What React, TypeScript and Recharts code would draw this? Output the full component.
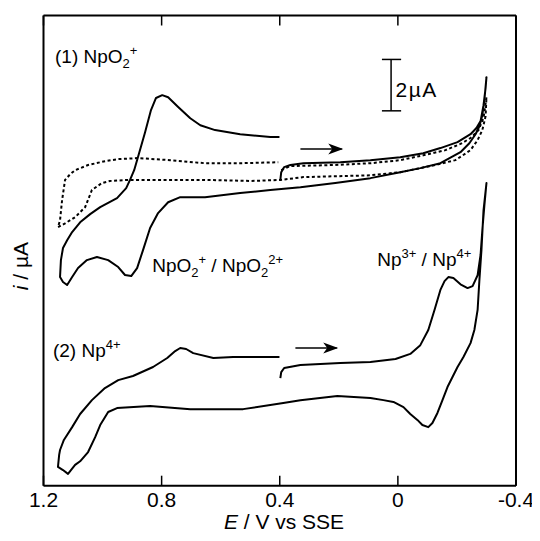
import React from "react";
import {
  LineChart,
  Line,
  XAxis,
  YAxis,
  Label,
  ReferenceLine,
  ReferenceDot,
} from "recharts";

// E (V vs SSE), i (µA, arbitrary offset)
const xTicks = [1.2, 0.8, 0.4, 0, -0.4];

const npo2Cv: [number, number][] = [
  [0.398, 11.9], [0.395, 12.2], [0.385, 12.4], [0.364, 12.48], [0.32, 12.55],
  [0.195, 12.59], [0.093, 12.67], [-0.008, 12.78], [-0.086, 12.94], [-0.144, 13.14],
  [-0.202, 13.37], [-0.246, 13.68], [-0.266, 13.92], [-0.28, 14.19], [-0.29, 14.81],
  [-0.297, 15.47], [-0.3, 15.9], [-0.293, 15.01], [-0.286, 14.42], [-0.276, 13.99],
  [-0.263, 13.68], [-0.242, 13.33], [-0.212, 12.98], [-0.144, 12.55], [-0.076, 12.36],
  [-0.008, 12.2], [0.093, 11.97], [0.212, 11.78], [0.33, 11.62], [0.432, 11.51],
  [0.534, 11.39], [0.653, 11.23], [0.737, 11.23], [0.778, 11.03], [0.812, 10.61],
  [0.839, 10.03], [0.863, 9.17], [0.883, 8.47], [0.903, 8.16], [0.924, 8.2],
  [0.947, 8.51], [0.981, 8.78], [1.019, 8.9], [1.053, 8.78], [1.083, 8.47],
  [1.103, 8.12], [1.12, 7.81], [1.134, 7.93], [1.144, 8.12], [1.141, 8.78],
  [1.134, 9.25], [1.12, 9.55], [1.103, 9.87], [1.076, 10.25], [1.042, 10.57],
  [1.008, 10.84], [0.951, 11.19], [0.92, 11.58], [0.907, 11.9], [0.893, 12.28],
  [0.88, 12.79], [0.856, 13.76], [0.836, 14.62], [0.819, 15.09], [0.798, 15.2],
  [0.778, 15.12], [0.744, 14.74], [0.703, 14.3], [0.669, 14.03], [0.619, 13.84],
  [0.534, 13.68], [0.432, 13.57], [0.401, 13.57],
];

const blankCv: [number, number][] = [
  [0.395, 12.28], [0.364, 12.44], [0.219, 12.48], [0.093, 12.55], [-0.008, 12.67],
  [-0.086, 12.86], [-0.161, 13.06], [-0.212, 13.3], [-0.246, 13.53], [-0.273, 13.84],
  [-0.29, 14.31], [-0.3, 15.12], [-0.297, 14.38], [-0.286, 13.84], [-0.27, 13.45],
  [-0.246, 13.06], [-0.195, 12.67], [-0.11, 12.44], [-0.008, 12.2], [0.093, 12.08],
  [0.32, 12.01], [0.398, 11.9], [0.5, 11.86], [0.653, 11.9], [0.839, 11.9],
  [0.914, 11.9], [0.975, 11.86], [1.002, 11.78], [1.036, 11.51], [1.059, 10.84],
  [1.093, 10.45], [1.127, 10.21], [1.151, 10.06], [1.144, 10.33], [1.137, 11.12],
  [1.127, 11.9], [1.11, 12.12], [1.093, 12.28], [1.049, 12.48], [0.992, 12.63],
  [0.947, 12.71], [0.88, 12.75], [0.771, 12.67], [0.653, 12.55], [0.534, 12.55],
  [0.405, 12.59],
];

const np4Cv: [number, number][] = [
  [0.398, 4.19], [0.395, 4.42], [0.385, 4.58], [0.33, 4.7], [0.195, 4.78],
  [0.093, 4.81], [0.008, 4.93], [-0.042, 5.13], [-0.076, 5.47], [-0.103, 6.06],
  [-0.124, 6.84], [-0.144, 7.62], [-0.158, 7.96], [-0.171, 8.12], [-0.188, 8.08],
  [-0.212, 7.84], [-0.236, 7.69], [-0.253, 7.77], [-0.27, 8.19], [-0.28, 8.98],
  [-0.286, 9.94], [-0.293, 10.92], [-0.3, 11.78], [-0.29, 10.72], [-0.283, 9.17],
  [-0.276, 7.99], [-0.27, 6.84], [-0.259, 6.06], [-0.246, 5.55], [-0.222, 5.01],
  [-0.202, 4.62], [-0.185, 4.23], [-0.168, 3.84], [-0.151, 3.33], [-0.134, 2.83],
  [-0.117, 2.44], [-0.103, 2.28], [-0.083, 2.36], [-0.066, 2.56], [-0.042, 2.79],
  [-0.019, 3.06], [0.015, 3.26], [0.049, 3.33], [0.093, 3.41], [0.205, 3.49],
  [0.33, 3.33], [0.388, 3.22], [0.524, 2.98], [0.703, 2.98], [0.839, 3.1],
  [0.951, 3.02], [0.981, 2.87], [1.008, 2.36], [1.025, 1.89], [1.049, 1.31],
  [1.076, 0.95], [1.093, 0.81], [1.107, 0.61], [1.117, 0.46], [1.134, 0.61],
  [1.151, 0.73], [1.147, 1.2], [1.144, 1.39], [1.131, 1.78], [1.103, 2.28],
  [1.076, 2.79], [1.036, 3.33], [0.992, 3.8], [0.947, 4.11], [0.897, 4.27],
  [0.829, 4.62], [0.781, 4.97], [0.754, 5.24], [0.737, 5.36], [0.717, 5.32],
  [0.693, 5.16], [0.625, 4.97], [0.558, 5.01], [0.432, 5.01], [0.401, 5.01],
];

const toPts = (arr: [number, number][]) => arr.map(([E, i]) => ({ E, i }));

const FONT = "'Liberation Sans', Arial, sans-serif";

type Part = { t: string; k?: "sub" | "sup" };

function Rich({ x, y, parts, size = 19 }: { x: number; y: number; parts: Part[]; size?: number }) {
  const small = Math.round(size * 0.66);
  let cur = 0;
  return (
    <text x={x} y={y} fontFamily={FONT} fontSize={size} fill="#000">
      {parts.map((p, n) => {
        const target = p.k === "sup" ? -size * 0.42 : p.k === "sub" ? size * 0.28 : 0;
        const dy = target - cur;
        cur = target;
        return (
          <tspan key={n} dy={dy} fontSize={p.k ? small : size}>
            {p.t}
          </tspan>
        );
      })}
    </text>
  );
}

function arrowHead(props: any) {
  const { cx, cy } = props;
  return (
    <path
      d={`M${cx},${cy} L${cx - 15},${cy - 5.5} L${cx - 11},${cy} L${cx - 15},${cy + 5.5} Z`}
      fill="#000"
    />
  );
}

const textAt = (parts: Part[], size = 19) => (props: any) =>
  <Rich x={props.cx} y={props.cy} parts={parts} size={size} />;

const axisLine = { stroke: "#000", strokeWidth: 2 };
const tickLine = { stroke: "#000", strokeWidth: 1.5 };

export default function App() {
  return (
    <LineChart
      width={532}
      height={533}
      margin={{ top: 6.5, right: 23, bottom: 15.3, left: 34.5 }}
    >
      <XAxis
        xAxisId="b"
        dataKey="E"
        type="number"
        domain={[-0.4, 1.2]}
        reversed
        ticks={xTicks}
        interval={0}
        allowDataOverflow
        height={40}
        tickSize={-10}
        tickMargin={16}
        axisLine={axisLine}
        tickLine={tickLine}
        tick={{ fill: "#000", fontSize: 21, fontFamily: FONT }}
      >
        <Label
          content={() => (
            <text x={276} y={521} textAnchor="middle" fontFamily={FONT} fontSize={21} fill="#000">
              <tspan fontStyle="italic">E</tspan> / V vs SSE
            </text>
          )}
        />
      </XAxis>
      <XAxis
        xAxisId="t"
        orientation="top"
        dataKey="E"
        type="number"
        domain={[-0.4, 1.2]}
        reversed
        ticks={xTicks}
        interval={0}
        allowDataOverflow
        height={1}
        tickSize={-10}
        tickFormatter={() => ""}
        axisLine={axisLine}
        tickLine={tickLine}
      />
      <YAxis
        yAxisId="l"
        type="number"
        domain={[0, 18.3]}
        allowDataOverflow
        width={1}
        tick={false}
        tickLine={false}
        axisLine={axisLine}
      >
        <Label
          content={() => (
            <text
              x={20}
              y={258}
              textAnchor="middle"
              transform="rotate(-90 20 258)"
              fontFamily={FONT}
              fontSize={21}
              fill="#000"
            >
              <tspan fontStyle="italic">i</tspan> / µA
            </text>
          )}
        />
      </YAxis>
      <YAxis
        yAxisId="r"
        orientation="right"
        type="number"
        domain={[0, 18.3]}
        allowDataOverflow
        width={1}
        tick={false}
        tickLine={false}
        axisLine={axisLine}
      />

      <Line
        xAxisId="b"
        yAxisId="l"
        data={toPts(blankCv)}
        dataKey="i"
        type="linear"
        stroke="#000"
        strokeWidth={2}
        strokeDasharray="3 2.5"
        dot={false}
        activeDot={false}
        isAnimationActive={false}
      />
      <Line
        xAxisId="b"
        yAxisId="l"
        data={toPts(npo2Cv)}
        dataKey="i"
        type="linear"
        stroke="#000"
        strokeWidth={2}
        strokeLinejoin="round"
        dot={false}
        activeDot={false}
        isAnimationActive={false}
      />
      <Line
        xAxisId="b"
        yAxisId="l"
        data={toPts(np4Cv)}
        dataKey="i"
        type="linear"
        stroke="#000"
        strokeWidth={2}
        strokeLinejoin="round"
        dot={false}
        activeDot={false}
        isAnimationActive={false}
      />

      {/* sweep direction arrows */}
      <ReferenceLine xAxisId="b" yAxisId="l" segment={[{ x: 0.33, y: 13.1 }, { x: 0.19, y: 13.1 }]} stroke="#000" strokeWidth={1.5} />
      <ReferenceDot xAxisId="b" yAxisId="l" x={0.185} y={13.1} r={1} shape={arrowHead} />
      <ReferenceLine xAxisId="b" yAxisId="l" segment={[{ x: 0.347, y: 5.36 }, { x: 0.207, y: 5.36 }]} stroke="#000" strokeWidth={1.5} />
      <ReferenceDot xAxisId="b" yAxisId="l" x={0.202} y={5.36} r={1} shape={arrowHead} />

      {/* 2 µA scale bar */}
      <ReferenceLine xAxisId="b" yAxisId="l" segment={[{ x: 0.023, y: 14.59 }, { x: 0.023, y: 16.59 }]} stroke="#000" strokeWidth={1.5} />
      <ReferenceLine xAxisId="b" yAxisId="l" segment={[{ x: 0.054, y: 14.59 }, { x: -0.011, y: 14.59 }]} stroke="#000" strokeWidth={1.5} />
      <ReferenceLine xAxisId="b" yAxisId="l" segment={[{ x: 0.054, y: 16.59 }, { x: -0.011, y: 16.59 }]} stroke="#000" strokeWidth={1.5} />
      <ReferenceDot xAxisId="b" yAxisId="l" x={0.008} y={15.12} r={1}
        shape={(p: any) => (
          <text x={p.cx} y={p.cy} fontFamily={FONT} fontSize={21} letterSpacing={1.5} fill="#000">2µA</text>
        )} />

      {/* annotations */}
      <ReferenceDot xAxisId="b" yAxisId="l" x={1.161} y={16.45} r={1}
        shape={textAt([{ t: "(1) NpO" }, { t: "2", k: "sub" }, { t: "+", k: "sup" }])} />
      <ReferenceDot xAxisId="b" yAxisId="l" x={0.832} y={8.32} r={1}
        shape={textAt([{ t: "NpO" }, { t: "2", k: "sub" }, { t: "+", k: "sup" }, { t: " / NpO" }, { t: "2", k: "sub" }, { t: "2+", k: "sup" }])} />
      <ReferenceDot xAxisId="b" yAxisId="l" x={0.07} y={8.55} r={1}
        shape={textAt([{ t: "Np" }, { t: "3+", k: "sup" }, { t: " / Np" }, { t: "4+", k: "sup" }])} />
      <ReferenceDot xAxisId="b" yAxisId="l" x={1.168} y={5.01} r={1}
        shape={textAt([{ t: "(2) Np" }, { t: "4+", k: "sup" }])} />
    </LineChart>
  );
}
